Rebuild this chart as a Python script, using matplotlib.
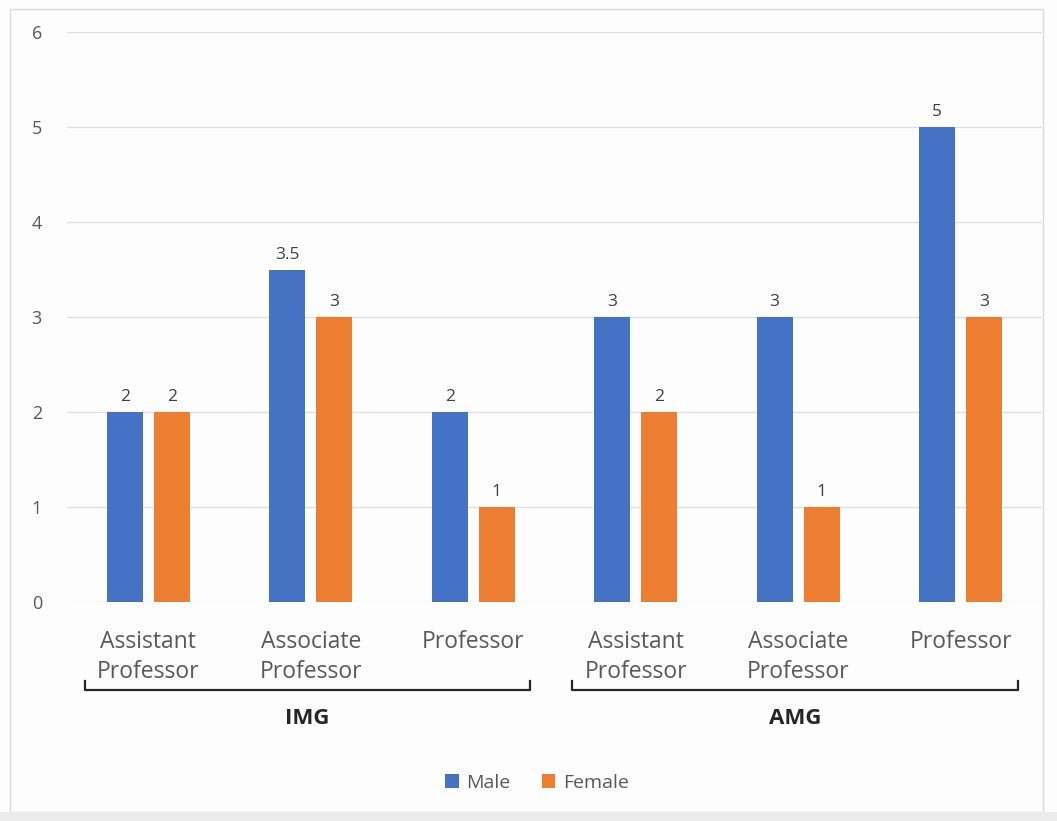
import matplotlib
matplotlib.use('Agg')

import numpy as np
import matplotlib.pyplot as plt
import matplotlib.transforms as mtransforms
from matplotlib.patches import Rectangle

# ranks within each graduate group
ranks = ["Assistant\nProfessor", "Associate\nProfessor", "Professor",
         "Assistant\nProfessor", "Associate\nProfessor", "Professor"]
groups = ["IMG", "AMG"]
group_members = [(0, 2), (3, 5)]
male = [2, 3.5, 2, 3, 3, 5]
female = [2, 3, 1, 2, 1, 3]

blue = '#4472C4'
orange = '#ED7D31'
text_grey = '#595959'

plt.rcParams['font.family'] = ['Open Sans', 'DejaVu Sans']

fig = plt.figure(figsize=(10.57, 8.21), dpi=100)
fig.patch.set_facecolor('#fdfdfd')

# outer chart frame and the grey strip below it
fig.patches.append(Rectangle((10 / 1057, 9 / 821), 1033 / 1057, 803 / 821,
                             transform=fig.transFigure, fill=False,
                             edgecolor='#d9d9d9', linewidth=1.0))
fig.patches.append(Rectangle((0, 0), 1, 9 / 821, transform=fig.transFigure,
                             facecolor='#ececec', edgecolor='none'))

ax = fig.add_axes([67 / 1057, 219 / 821, 975 / 1057, 570 / 821])
ax.set_facecolor('none')

x = np.arange(len(ranks))
w = 0.22
off = 0.145
bm = ax.bar(x - off, male, w, color=blue, label='Male', zorder=3)
bf = ax.bar(x + off, female, w, color=orange, label='Female', zorder=3)

for bars, vals in ((bm, male), (bf, female)):
    for b, v in zip(bars, vals):
        ax.text(b.get_x() + b.get_width() / 2, v + 0.07, f"{v:g}",
                ha='center', va='bottom', fontsize=12.5, color='#404040')

ax.set_xlim(-0.5, len(ranks) - 0.5)
ax.set_ylim(0, 6)
ax.set_yticks(range(0, 7))
ax.yaxis.grid(True, color='#e0e0e0', linewidth=1.0, zorder=0)
ax.set_axisbelow(True)
for s in ax.spines.values():
    s.set_visible(False)
ax.tick_params(axis='y', length=0, pad=18, labelsize=13, labelcolor=text_grey)
ax.tick_params(axis='x', length=0, pad=20, labelsize=16.5, labelcolor=text_grey)
ax.set_xticks(x)
ax.set_xticklabels(ranks, linespacing=1.35)
for lbl in ax.get_xticklabels():
    lbl.set_verticalalignment('top')

# brackets grouping the ranks
trans = mtransforms.blended_transform_factory(ax.transData, fig.transFigure)
y_line = 1 - 690 / 821
y_tip = 1 - 681 / 821
for name, (i0, i1) in zip(groups, group_members):
    xa, xb = i0 - 0.39, i1 + 0.35
    ax.plot([xa, xa, xb, xb], [y_tip, y_line, y_line, y_tip], color='#262626',
            linewidth=1.6, transform=trans, clip_on=False)
    ax.text((xa + xb) / 2, 1 - 718 / 821, name, transform=trans,
            ha='center', va='center', fontsize=16, fontweight='bold',
            color='#262626')

fig.legend(handles=[bm, bf], labels=['Male', 'Female'], loc='center',
           bbox_to_anchor=(537 / 1057, 1 - 783 / 821), ncol=2, frameon=False,
           fontsize=14, handlelength=0.7, handleheight=0.7, columnspacing=1.6,
           handletextpad=0.4, labelcolor=text_grey)

plt.savefig('out.png', dpi=100, facecolor=fig.get_facecolor())
